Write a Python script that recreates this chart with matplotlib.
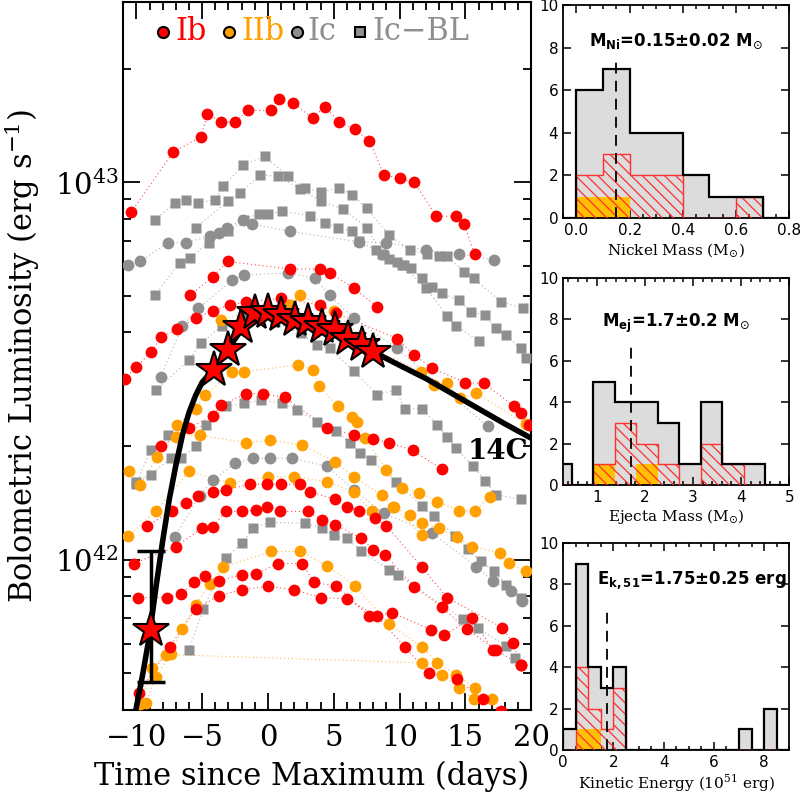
import numpy as np
import matplotlib.pyplot as plt
from matplotlib.ticker import MultipleLocator, LogLocator, NullFormatter

plt.rcParams['font.family'] = 'DejaVu Serif'
plt.rcParams['mathtext.fontset'] = 'dejavusans'
plt.rcParams['hatch.linewidth'] = 0.9

RED = '#FF0000'
ORANGE = '#FFA000'
GRAY = '#8F8F8F'

# light curves: (days since maximum, log10 L)
ib_curves = [
    ([-10.4, -7.2, -5.1, -4.6, -3.6, -2.5, -1.5, 0.2, 0.8, 1.9, 3.4, 4.3, 5.4, 6.6, 7.7, 8.8, 10.0, 11.1, 12.8, 14.3, 14.9, 15.7],
     [42.92, 43.08, 43.12, 43.18, 43.16, 43.16, 43.19, 43.19, 43.22, 43.21, 43.17, 43.20, 43.16, 43.14, 43.11, 43.02, 43.01, 43.00, 42.91, 42.91, 42.89, 42.81]),
    ([-5.9, -4.2, -3.05, 1.7, 3.95, 4.7, 6.5, 8.3],
     [42.70, 42.75, 42.79, 42.77, 42.77, 42.76, 42.72, 42.67]),
    ([-10.9, -10.0, -8.9, -8.1, -6.9, -5.5, -4.2, -2.9, -1.65, 1.0, 3.95, 5.2, 9.8, 11.1, 12.5, 15.0, 16.4, 18.7, 19.2, 19.8],
     [42.48, 42.51, 42.55, 42.59, 42.61, 42.64, 42.66, 42.675, 42.683, 42.692, 42.675, 42.653, 42.586, 42.542, 42.507, 42.469, 42.467, 42.407, 42.388, 42.357]),
    ([-8.1, -6.0, -4.2, -3.56, -1.65, -0.4, 1.27, 4.46, 6.5, 8.0, 9.2, 11.0, 13.2],
     [42.30, 42.35, 42.38, 42.41, 42.44, 42.44, 42.43, 42.35, 42.33, 42.32, 42.31, 42.29, 42.24]),
    ([-9.2, -7.3, -6.2, -5.3, -4.2, -3.2, -1.4, -0.1, 1.0, 2.4, 3.2, 5.1, 6.0, 6.95, 8.1, 9.0, 11.7, 13.6, 17.8, 18.6, 19.2],
     [42.09, 42.13, 42.15, 42.17, 42.18, 42.185, 42.20, 42.20, 42.20, 42.20, 42.18, 42.16, 42.14, 42.13, 42.11, 42.09, 41.98, 41.90, 41.82, 41.78, 41.72]),
    ([-10.2, -7.0, -5.0, -4.2, -3.2, -2.0, -0.9, -0.1, 0.9, 3.05, 4.1, 5.1, 7.1, 8.0, 8.9, 11.1, 13.2, 15.1, 17.3, 19.2],
     [41.99, 42.035, 42.084, 42.088, 42.128, 42.128, 42.132, 42.141, 42.128, 42.128, 42.106, 42.093, 42.057, 42.026, 42.013, 41.929, 41.875, 41.816, 41.762, 41.72]),
    ([-9.9, -7.7, -6.6, -5.6, -4.75, -3.7, -2.0, -0.9, 0.76, 2.6, 3.5, 5.2, 7.7, 9.4, 12.4, 13.4, 15.5, 17.1],
     [41.90, 41.90, 41.91, 41.94, 41.956, 41.945, 41.96, 41.963, 41.99, 41.99, 41.94, 41.93, 41.85, 41.86, 41.815, 41.80, 41.846, 41.76]),
    ([-9.8, -7.45, -5.5, -3.7, -2.0, 0.0, 2.0, 4.0, 6.0, 8.3, 10.4, 12.2, 14.4, 16.3, 17.7],
     [41.647, 41.77, 41.87, 41.905, 41.92, 41.93, 41.92, 41.90, 41.896, 41.85, 41.769, 41.70, 41.683, 41.63, 41.60]),
]

iib_curves = [
    ([-3.56, -1.0, 1.66, 2.4, 5.0, 8.0, 11.6, 12.6, 13.6, 14.6, 15.8, 19.6],
     [42.635, 42.66, 42.675, 42.70, 42.66, 42.56, 42.498, 42.463, 42.467, 42.428, 42.441, 42.36]),
    ([-6.9, -5.5, -4.75, -2.7, -1.8, 2.3, 3.4, 3.9, 5.3, 6.4, 6.75, 7.4, 9.0, 10.2, 11.5, 12.85, 14.5, 15.7, 16.9],
     [42.357, 42.40, 42.436, 42.498, 42.498, 42.516, 42.503, 42.46, 42.406, 42.379, 42.366, 42.322, 42.238, 42.19, 42.178, 42.154, 42.13, 42.13, 42.167]),
    ([-10.55, -9.7, -8.4, -7.0, -5.2, -1.65, 0.13, 2.55, 5.1, 6.5, 8.65, 9.5, 11.7],
     [42.234, 42.198, 42.273, 42.326, 42.33, 42.31, 42.317, 42.304, 42.26, 42.22, 42.172, 42.141, 42.066]),
    ([-10.6, -8.5, -6.0, -2.9, 0.0, 2.0, 4.46, 6.5, 7.9, 9.6, 10.8, 11.7, 13.0, 14.4, 15.5, 17.6, 18.3, 19.6],
     [42.062, 42.13, 42.234, 42.203, 42.22, 42.22, 42.207, 42.18, 42.128, 42.14, 42.119, 42.097, 42.084, 42.059, 42.035, 42.018, 41.991, 41.969]),
    ([-9.3, -8.5, -7.4, -6.5, -5.5, -4.4, -3.4, 0.26, 2.4, 4.5, 6.6, 9.2, 11.7, 12.85, 14.3, 15.7, 17.0],
     [41.62, 41.69, 41.751, 41.817, 41.881, 41.937, 41.981, 42.022, 42.022, 41.984, 41.931, 41.83, 41.769, 41.727, 41.696, 41.66, 41.63]),
    ([-9.7, -8.8, -7.75, 11.7, 13.2, 14.5, 15.65],
     [41.619, 41.714, 41.749, 41.727, 41.696, 41.66, 41.631]),
]

ic_curves = [
    ([-10.6, -9.7, -7.6, -6.2, -4.4, -3.7, -3.1, -1.9, -1.2, 1.66, 6.9, 9.0, 12.0, 14.5, 17.2],
     [42.78, 42.79, 42.84, 42.84, 42.858, 42.866, 42.88, 42.901, 42.889, 42.87, 42.842, 42.84, 42.82, 42.81, 42.794]),
    ([-8.14, -6.5, -5.3, -2.7, -1.85, 1.5, 3.6, 4.7, 6.5, 9.8, 16.7],
     [42.485, 42.62, 42.666, 42.74, 42.754, 42.76, 42.745, 42.70, 42.64, 42.56, 42.353]),
    ([-7.1, -5.2, -4.2, -2.5, -1.1, 0.13, 1.8, 4.5, 6.5, 8.8, 12.5, 15.8, 17.1, 18.45, 19.3],
     [42.06, 42.17, 42.21, 42.256, 42.269, 42.269, 42.269, 42.247, 42.185, 42.123, 42.07, 41.982, 41.943, 41.916, 41.89]),
]

icbl_curves = [
    ([-8.6, -7.05, -6.2, -5.3, -4.0, -3.4, -1.9, -0.25, 1.5, 2.8, 4.05, 5.4, 6.4, 7.5, 9.2, 10.8, 12.1, 13.0, 13.6, 14.9, 15.65, 17.7, 19.4],
     [42.90, 42.945, 42.952, 42.945, 42.954, 42.989, 43.045, 43.069, 43.016, 42.985, 42.974, 42.985, 42.966, 42.931, 42.86, 42.82, 42.811, 42.804, 42.804, 42.763, 42.745, 42.683, 42.666]),
    ([-8.6, -6.7, -5.9, -4.5, -3.0, -1.85, -0.7, 0.0, 1.07, 3.2, 4.3, 5.3, 6.4, 6.9, 8.2, 8.8, 9.2, 9.8, 10.3, 10.9, 11.7, 12.5, 13.2, 14.5, 15.4, 16.5, 17.3, 18.1, 19.2, 19.6],
     [42.70, 42.787, 42.80, 42.84, 42.87, 42.90, 42.917, 42.915, 42.924, 42.911, 42.893, 42.879, 42.870, 42.844, 42.82, 42.807, 42.796, 42.788, 42.78, 42.772, 42.745, 42.723, 42.706, 42.688, 42.657, 42.648, 42.613, 42.595, 42.56, 42.534]),
    ([-5.5, -3.0, -2.1, -0.6, 0.76, 2.4, 4.0, 5.7, 7.5, 8.66, 10.2, 12.0, 13.6, 14.3, 16.0],
     [42.88, 42.95, 42.972, 43.019, 43.016, 42.983, 42.95, 42.929, 42.88, 42.811, 42.78, 42.72, 42.646, 42.62, 42.58]),
    ([-8.5, -6.0, -5.1, -3.5, -1.5, 0.5, 2.5, 3.7, 4.7, 6.5, 8.3, 9.7, 10.4, 11.7, 12.85, 13.6, 14.25, 15.6, 16.5, 17.3, 19.2],
     [42.45, 42.529, 42.573, 42.62, 42.64, 42.63, 42.60, 42.569, 42.56, 42.50, 42.437, 42.45, 42.40, 42.40, 42.357, 42.326, 42.296, 42.247, 42.209, 42.172, 42.161]),
    ([-10.05, -8.9, -7.6, -4.7, -3.2, -1.8, -0.5, 1.1, 2.2, 3.7, 5.2, 6.2, 7.0, 7.8, 9.7, 11.7, 12.6, 14.2, 15.2, 16.2, 17.2, 18.1, 19.2],
     [42.20, 42.29, 42.33, 42.357, 42.406, 42.414, 42.423, 42.414, 42.397, 42.366, 42.34, 42.31, 42.282, 42.265, 42.207, 42.142, 42.115, 42.063, 42.028, 41.996, 41.969, 41.934, 41.899]),
    ([-6.0, -4.9, -3.2, -2.0, -1.1, 0.13, 2.8, 4.1, 5.0, 6.0, 7.1, 9.2, 9.9, 14.8, 15.95, 18.1, 18.75],
     [41.762, 41.87, 42.004, 42.044, 42.084, 42.099, 42.097, 42.084, 42.066, 42.057, 42.022, 41.974, 41.96, 41.843, 41.819, 41.771, 41.74]),
    ([-10.0, -8.9, -7.4, -6.6, -5.5],
     [42.207, 42.225, 42.269, 42.269, 42.30]),
]

# SN 2014C
sn14c_t = [-8.9, -4.07, -3.05, -2.03, -1.02, 0.0, 1.02, 2.04, 3.05, 4.07, 5.09, 6.1, 7.13, 8.0]
sn14c_logl = [41.815, 42.503, 42.556, 42.617, 42.653, 42.657, 42.648, 42.635, 42.63, 42.617, 42.608, 42.584, 42.569, 42.551]
sn14c_err_lo = 41.675
sn14c_err_hi = 42.022
model_t = [-10.05, -9.5, -9.0, -8.5, -8.0, -7.5, -7.0, -6.5, -6.0, -5.5, -5.0, -4.5, -4.0, -3.0, -2.0, -1.0, 0.0,
           1.0, 2.0, 3.0, 4.0, 5.0, 6.0, 7.0, 8.0, 9.0, 10.0, 12.0, 14.0, 16.0, 18.0, 20.0]
model_logl = [41.60, 41.70, 41.80, 41.93, 42.05, 42.16, 42.25, 42.33, 42.39, 42.435, 42.47, 42.49, 42.51, 42.56, 42.61,
              42.645, 42.655, 42.65, 42.64, 42.628, 42.615, 42.60, 42.585, 42.568, 42.551, 42.533, 42.515, 42.48,
              42.44, 42.40, 42.36, 42.322]

# histograms
ni_edges = [-0.1, 0.0, 0.1, 0.2, 0.3, 0.4, 0.5, 0.6, 0.7, 0.8]
ni_all = [0, 6, 7, 4, 4, 2, 1, 1, 0]
ni_ib = [0, 2, 3, 2, 2, 0, 0, 1, 0]
ni_iib = [0, 1, 1, 0, 0, 0, 0, 0, 0]

mej_edges = [0.03, 0.48, 0.92, 1.37, 1.82, 2.27, 2.71, 3.16, 3.61, 4.06, 4.50, 4.95, 5.4]
mej_all = [1, 0, 5, 4, 4, 3, 1, 4, 1, 1, 0, 0]
mej_ib = [0, 0, 1, 3, 2, 1, 0, 2, 1, 0, 0, 0]
mej_iib = [0, 0, 1, 0, 1, 0, 0, 0, 0, 0, 0, 0]

ek_edges = [0.0, 0.5, 1.0, 1.5, 2.0, 2.5, 3.0, 3.5, 4.0, 4.5, 5.0, 5.5, 6.0, 6.5, 7.0, 7.5, 8.0, 8.5, 9.0]
ek_all = [1, 9, 4, 3, 4, 0, 0, 0, 0, 0, 0, 0, 0, 0, 1, 0, 2, 0]
ek_ib = [0, 4, 2, 1, 3, 0, 0, 0, 0, 0, 0, 0, 0, 0, 0, 0, 0, 0]
ek_iib = [0, 1, 1, 0, 0, 0, 0, 0, 0, 0, 0, 0, 0, 0, 0, 0, 0, 0]

fig = plt.figure(figsize=(8, 7.99), dpi=100)
ax = fig.add_axes([0.154, 0.1114, 0.51, 0.886])

for curves, col, mk, ms in [(ic_curves, GRAY, 'o', 8.5), (icbl_curves, GRAY, 's', 7.5),
                            (iib_curves, ORANGE, 'o', 8.5), (ib_curves, RED, 'o', 8.5)]:
    for t, lg in curves:
        L = 10 ** np.array(lg)
        ax.plot(t, L, ls=(0, (1, 2.5)), lw=0.8, color=col, alpha=0.7, zorder=2)
        ax.plot(t, L, mk, ms=ms, color=col, mec='none', zorder=3)

ax.plot(model_t, 10 ** np.array(model_logl), 'k-', lw=4, zorder=5)
ax.errorbar(sn14c_t[0], 10 ** sn14c_logl[0],
            yerr=[[10 ** sn14c_logl[0] - 10 ** sn14c_err_lo], [10 ** sn14c_err_hi - 10 ** sn14c_logl[0]]],
            fmt='none', ecolor='k', elinewidth=2.5, capsize=10, capthick=2.5, zorder=6)
ax.plot(sn14c_t, 10 ** np.array(sn14c_logl), '*', ms=27, mfc=RED, mec='k', mew=1.5, zorder=7)
ax.text(17.5, 10 ** 42.286, '14C', fontsize=20, fontweight='bold', ha='center', va='center', zorder=8)

ax.set_yscale('log')
ax.set_xlim(-11, 20)
ax.set_ylim(4e41, 3e43)
ax.xaxis.set_major_locator(MultipleLocator(5))
ax.xaxis.set_minor_locator(MultipleLocator(1))
ax.yaxis.set_major_locator(LogLocator(base=10))
ax.yaxis.set_minor_locator(LogLocator(base=10, subs=np.arange(2, 10)))
ax.yaxis.set_minor_formatter(NullFormatter())
ax.tick_params(which='both', direction='in', top=True, right=True, width=1.3, labelsize=21)
ax.tick_params(which='major', length=12)
ax.tick_params(which='minor', length=6)
ax.tick_params(axis='x', pad=10)
for s in ax.spines.values():
    s.set_linewidth(1.5)
ax.set_xlabel('Time since Maximum (days)', fontsize=22)
ax.set_ylabel('Bolometric Luminosity (erg s$^{\\mathdefault{-1}}$)', fontsize=22)
ax.xaxis.set_label_coords(0.463, -0.072)
ax.yaxis.set_label_coords(-0.2, 0.5)

# legend
leg = [(0.098, 'o', RED, 0.128, 'Ib'), (0.26, 'o', ORANGE, 0.29, 'IIb'),
       (0.426, 'o', GRAY, 0.452, 'Ic'), (0.581, 's', GRAY, 0.610, 'Ic\u2212BL')]
for mx, mk, col, tx, lab in leg:
    ax.plot([mx], [0.958], mk, ms=8 if mk == 'o' else 7, mfc=col, mec='k', mew=1.5,
            transform=ax.transAxes, zorder=9)
    ax.text(tx, 0.958, lab, color=col, fontsize=22, va='center', ha='left', transform=ax.transAxes)


def hist_panel(rect, edges, all_, ib, iib, xval, xtop, xlim, xmaj, xmin, title, tx, ty, tha, xlabel):
    h = fig.add_axes(rect)
    h.stairs(all_, edges, fill=True, color='#DCDCDC', zorder=1)
    h.stairs(iib, edges, fill=True, color='#FFC000', zorder=2)
    h.stairs(ib, edges, fill=True, facecolor='none', edgecolor='#FF3030', hatch='\\\\\\', lw=1.0, zorder=3)
    h.stairs(all_, edges, color='k', lw=1.6, zorder=4)
    h.plot([xval, xval], [0, xtop], color='k', ls=(0, (6, 4)), lw=1.3, zorder=5)
    h.set_xlim(*xlim)
    h.set_ylim(0, 10)
    h.xaxis.set_major_locator(MultipleLocator(xmaj))
    h.xaxis.set_minor_locator(MultipleLocator(xmin))
    h.yaxis.set_major_locator(MultipleLocator(2))
    h.tick_params(which='both', direction='in', top=True, right=True, width=1.1, labelsize=11)
    h.tick_params(which='major', length=6)
    h.tick_params(which='minor', length=3)
    for lb in h.get_xticklabels() + h.get_yticklabels():
        lb.set_family('DejaVu Sans')
    for s in h.spines.values():
        s.set_linewidth(1.3)
    h.set_xlabel(xlabel, fontsize=11, labelpad=2)
    h.text(tx, ty, title, transform=h.transAxes, fontsize=12, fontweight='bold',
           family='DejaVu Sans', ha=tha, va='center')
    return h


hist_panel([0.704, 0.7272, 0.2825, 0.2666], ni_edges, ni_all, ni_ib, ni_iib, 0.15, 7.3,
           (-0.05, 0.8), 0.2, 0.05, r'M$_{\mathbf{Ni}}$=0.15±0.02 M$_{\odot}$', 0.5, 0.83, 'center',
           'Nickel Mass (M$_{\\odot}$)')
hist_panel([0.704, 0.393, 0.2825, 0.259], mej_edges, mej_all, mej_ib, mej_iib, 1.7, 6.8,
           (0.3, 5.0), 1, 0.2, r'M$_{\mathbf{ej}}$=1.7±0.2 M$_{\odot}$', 0.5, 0.78, 'center',
           'Ejecta Mass (M$_{\\odot}$)')
hist_panel([0.704, 0.0613, 0.2825, 0.259], ek_edges, ek_all, ek_ib, ek_iib, 1.75, 6.7,
           (0, 9), 2, 0.5, r'E$_{\mathbf{k,51}}$=1.75±0.25 erg', 0.99, 0.82, 'right',
           'Kinetic Energy (10$^{\\mathdefault{51}}$ erg)')

fig.savefig('out.png', dpi=100)
